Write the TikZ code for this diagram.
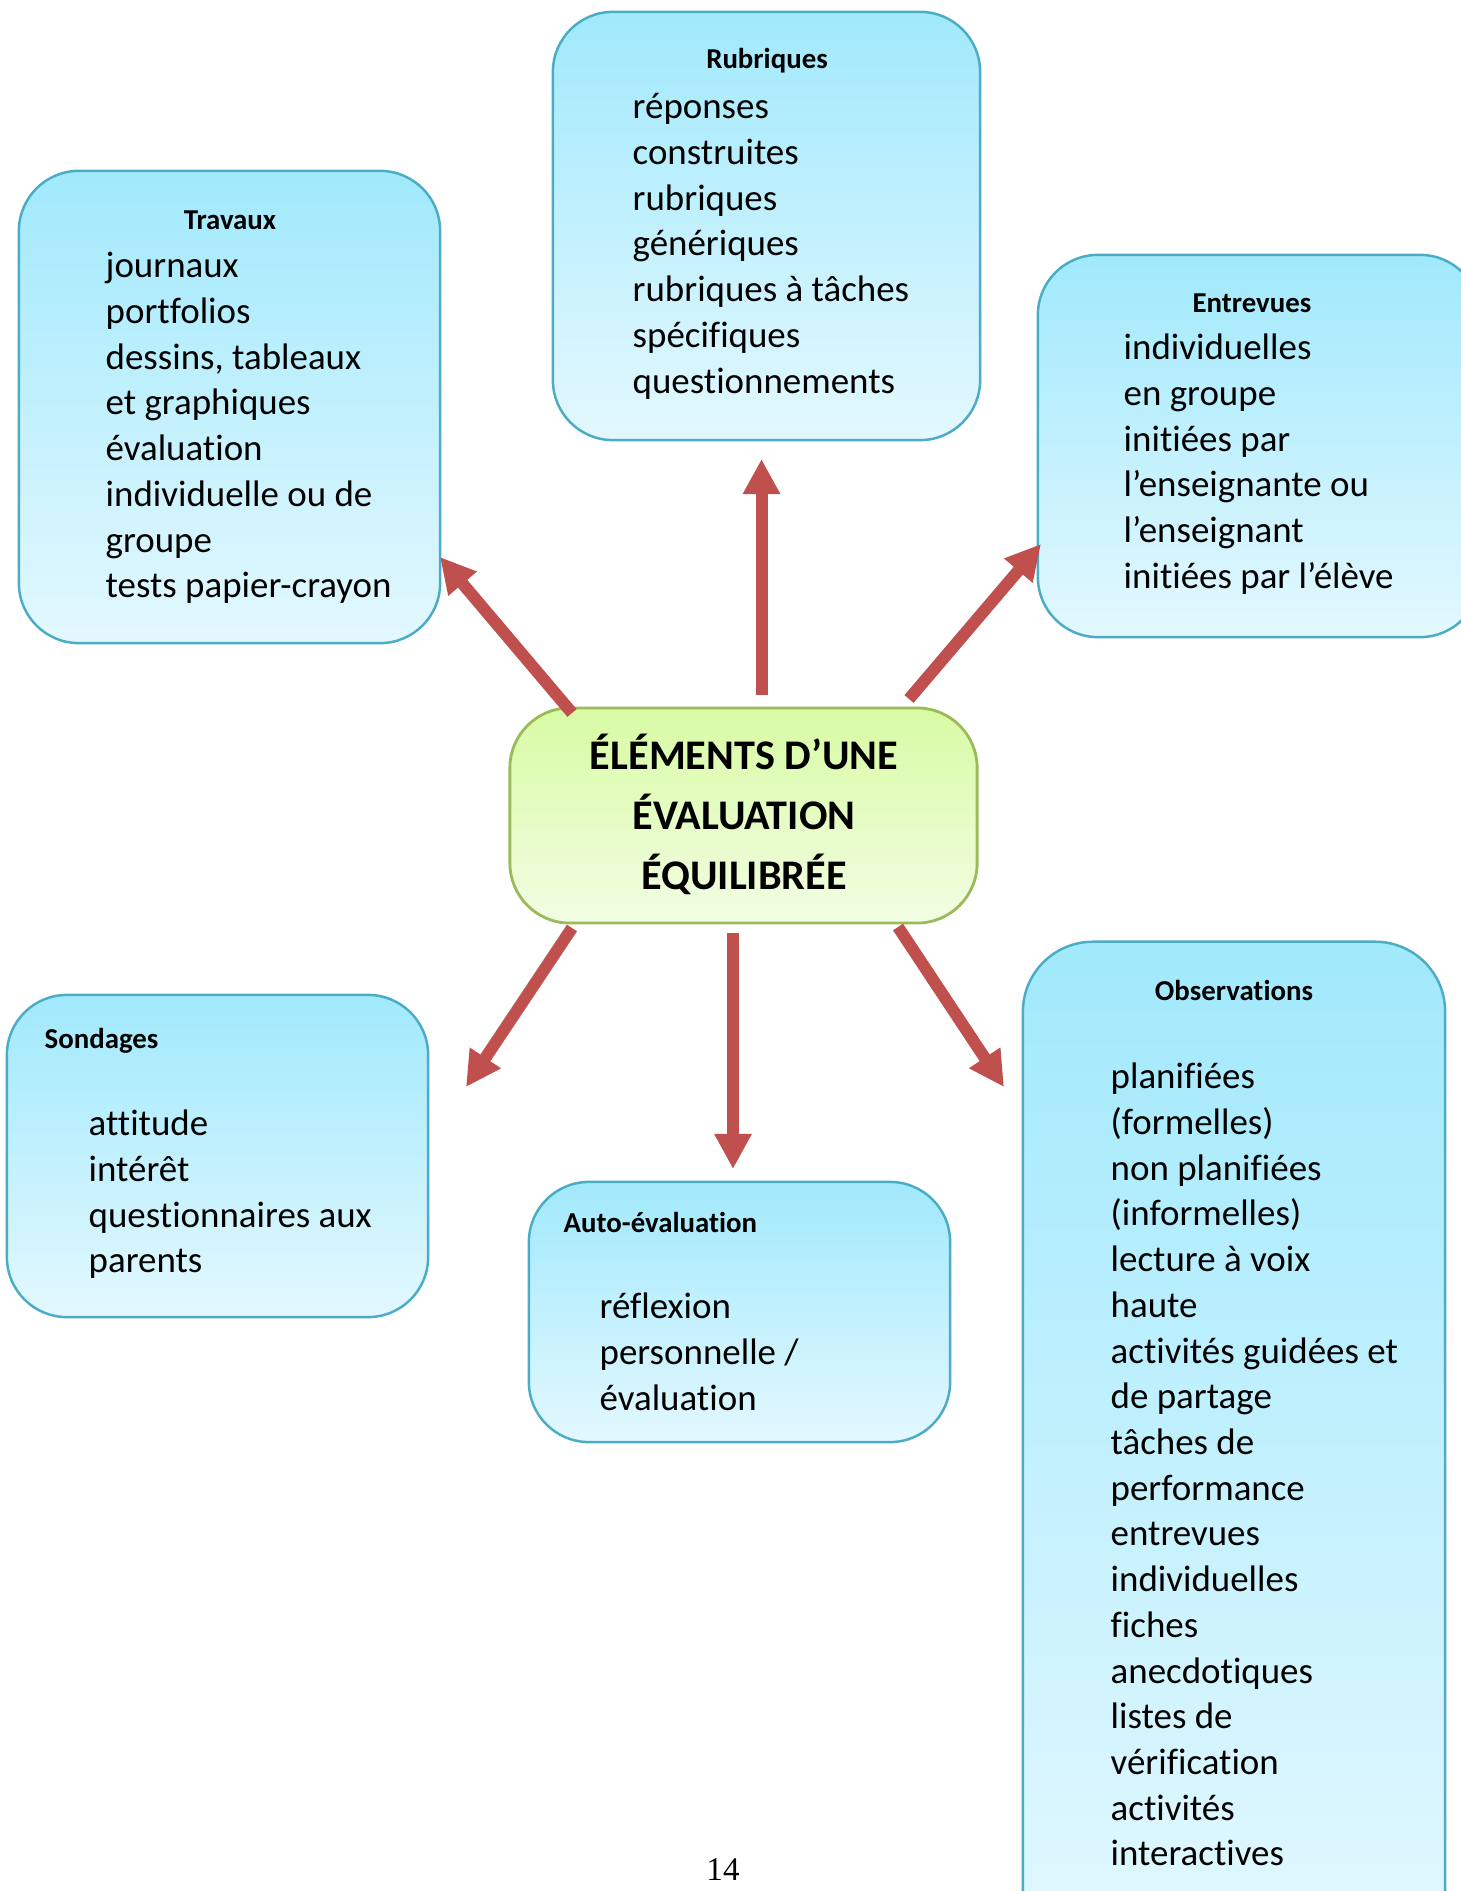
\documentclass[tikz,border=0pt]{standalone}
\usepackage{fontspec}
\setmainfont{Carlito}[Ligatures=NoCommon]
\newfontfamily\pagefont{Liberation Serif}
\usetikzlibrary{arrows.meta}

\definecolor{boiteHaut}{HTML}{A1E9FC}
\definecolor{boiteBas}{HTML}{E3F8FE}
\definecolor{boiteBord}{HTML}{4BACC6}
\definecolor{centreHaut}{HTML}{D8FBA4}
\definecolor{centreBas}{HTML}{F2FDE3}
\definecolor{centreBord}{HTML}{9BBB59}
\definecolor{rougeFleche}{HTML}{C0504D}

\begin{document}
\begin{tikzpicture}[x=0.01cm, y=-0.01cm,
  boite/.style = {rectangle, rounded corners=0.6cm, draw=boiteBord,
    line width=0.7pt, top color=boiteHaut, bottom color=boiteBas,
    inner sep=0pt},
  centre/.style = {rectangle, rounded corners=0.6cm, draw=centreBord,
    line width=0.8pt, top color=centreHaut, bottom color=centreBas,
    inner sep=0pt},
  titre/.style = {inner sep=0pt, font=\fontsize{8.2}{10}\selectfont\bfseries},
  liste/.style = {anchor=north west, align=left, inner sep=0pt,
    font=\fontsize{10.5}{13}\selectfont},
  fleche/.style = {draw=rougeFleche, line width=0.12cm,
    -{Triangle[width=0.35cm, length=0.35cm]}}]
  \useasboundingbox (0,0) rectangle (1460,1891);

  % boites
  \node[boite, minimum width=4.21cm, minimum height=4.72cm] (travaux) at (229.5,407) {};
  \node[boite, minimum width=4.27cm, minimum height=4.28cm] (rubriques) at (766.5,226) {};
  \node[boite, minimum width=4.42cm, minimum height=3.82cm] (entrevues) at (1259,446) {};
  \node[centre, minimum width=4.67cm, minimum height=2.15cm] (elements) at (743.5,815.5) {};
  \node[boite, minimum width=4.21cm, minimum height=3.22cm] (sondages) at (217.5,1156) {};
  \node[boite, minimum width=4.21cm, minimum height=2.60cm] (auto) at (739.5,1312) {};
  \node[boite, rounded corners=0.7cm, minimum width=4.22cm, minimum height=10.18cm] (observations) at (1234,1451) {};

  % textes
  \node[titre, anchor=base] (t-travaux) at (230,229) {Travaux};
  \node[liste] (l-travaux) at (105,245) {\strut journaux\\ portfolios\\ dessins, tableaux\\
    et graphiques\\ évaluation\\ individuelle ou de\\ groupe\\ tests papier-crayon};

  \node[titre, anchor=base] (t-rubriques) at (767,69) {Rubriques};
  \node[liste] (l-rubriques) at (632,86) {\strut réponses\\ construites\\ rubriques\\
    génériques\\ rubriques à tâches\\ spécifiques\\ questionnements};

  \node[titre, anchor=base] (t-entrevues) at (1252,312) {Entrevues};
  \node[liste] (l-entrevues) at (1123,327) {\strut individuelles\\ en groupe\\ initiées par\\
    l’enseignante ou\\ l’enseignant\\ initiées par l’élève};

  \node[anchor=north, align=center, inner sep=0pt,
    font=\fontsize{12}{17}\selectfont\bfseries] (t-elements) at (744,727)
    {\strut ÉLÉMENTS D’UNE\\ ÉVALUATION\\ ÉQUILIBRÉE};

  \node[titre, anchor=base west] (t-sondages) at (44,1048) {Sondages};
  \node[liste] (l-sondages) at (88,1103) {\strut attitude\\ intérêt\\
    questionnaires aux\\ parents};

  \node[titre, anchor=base west] (t-auto) at (563,1232) {Auto-évaluation};
  \node[liste] (l-auto) at (599,1286) {\strut réflexion\\ personnelle /\\ évaluation};

  \node[titre, anchor=base] (t-observations) at (1234,1000) {Observations};
  \node[liste] (l-observations) at (1110,1056) {\strut planifiées\\ (formelles)\\
    non planifiées\\ (informelles)\\ lecture à voix\\ haute\\ activités guidées et\\
    de partage\\ tâches de\\ performance\\ entrevues\\ individuelles\\ fiches\\
    anecdotiques\\ listes de\\ vérification\\ activités\\ interactives};

  \node[anchor=base, inner sep=0pt, font=\pagefont\fontsize{9.4}{11}\selectfont]
    (page) at (723,1880) {14};

  % fleches
  \coordinate (d-travaux) at (572,713);      \coordinate (f-travaux) at (440,557);
  \coordinate (d-rubriques) at (761.5,695);  \coordinate (f-rubriques) at (761.5,459);
  \coordinate (d-entrevues) at (909,699);    \coordinate (f-entrevues) at (1041,544);
  \coordinate (d-sondages) at (572,928);     \coordinate (f-sondages) at (466,1087);
  \coordinate (d-auto) at (733,933);         \coordinate (f-auto) at (733,1169);
  \coordinate (d-observations) at (898,927); \coordinate (f-observations) at (1004,1087);

  \draw[fleche] (d-travaux) -- (f-travaux);
  \draw[fleche] (d-rubriques) -- (f-rubriques);
  \draw[fleche] (d-entrevues) -- (f-entrevues);
  \draw[fleche] (d-sondages) -- (f-sondages);
  \draw[fleche] (d-auto) -- (f-auto);
  \draw[fleche] (d-observations) -- (f-observations);
\end{tikzpicture}
\end{document}
